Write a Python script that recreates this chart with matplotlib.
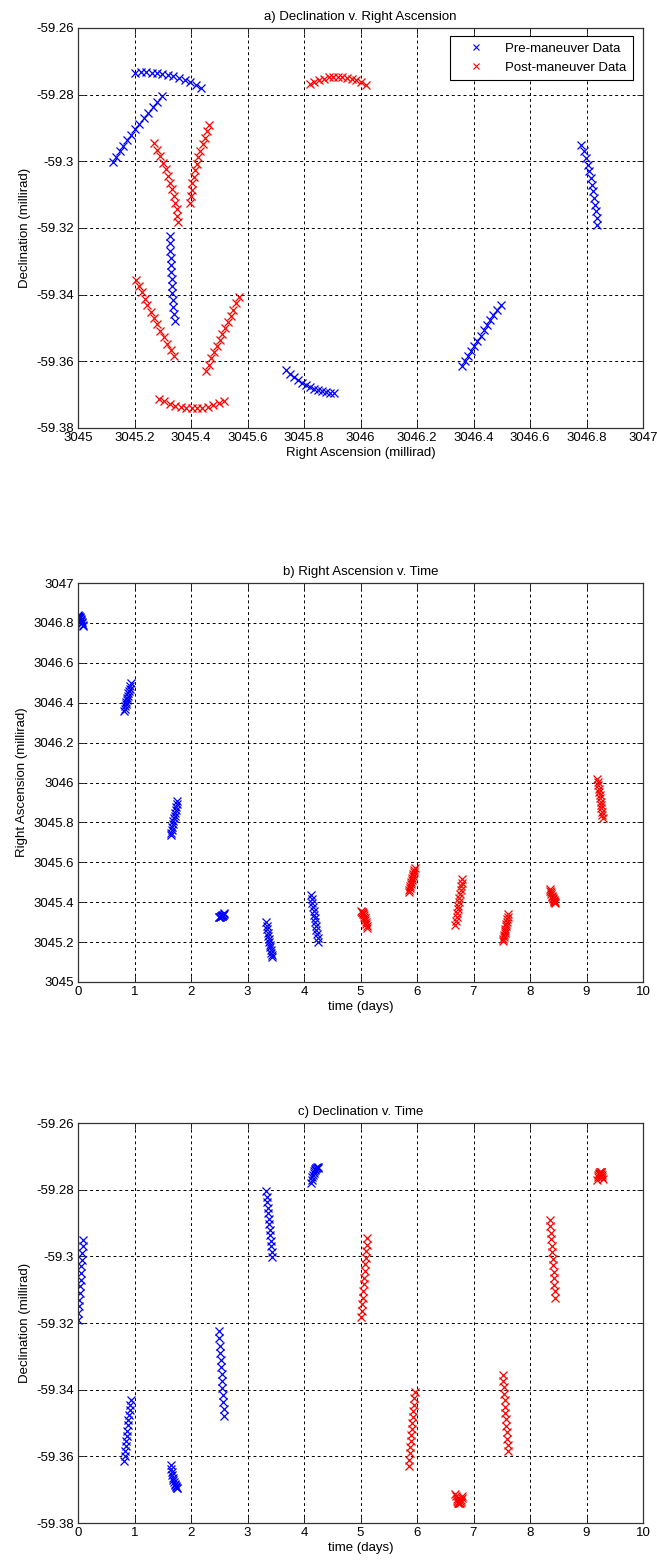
import matplotlib
matplotlib.use("Agg")
import matplotlib.pyplot as plt
from matplotlib.ticker import FuncFormatter, FixedLocator

plt.rcParams['font.family'] = ['Liberation Sans', 'DejaVu Sans']
plt.rcParams['font.size'] = 9.5

# ---------------- data (one inner list per observation pass) ----------------
pre_time = [
    [0.000, 0.008, 0.015, 0.023, 0.030, 0.038, 0.045, 0.053, 0.060, 0.068, 0.075, 0.083, 0.090],
    [0.820, 0.829, 0.838, 0.848, 0.857, 0.866, 0.875, 0.884, 0.893, 0.903, 0.912, 0.921, 0.930],
    [1.640, 1.650, 1.660, 1.670, 1.680, 1.690, 1.700, 1.710, 1.720, 1.730, 1.740, 1.750, 1.760],
    [2.490, 2.498, 2.507, 2.515, 2.523, 2.532, 2.540, 2.548, 2.557, 2.565, 2.573, 2.582, 2.590],
    [3.330, 3.339, 3.348, 3.358, 3.367, 3.376, 3.385, 3.394, 3.403, 3.413, 3.422, 3.431, 3.440],
    [4.130, 4.140, 4.150, 4.160, 4.170, 4.180, 4.190, 4.200, 4.210, 4.220, 4.230, 4.240, 4.250],
]
pre_ra = [
    [3046.838, 3046.836, 3046.834, 3046.831, 3046.828, 3046.824, 3046.820, 3046.815, 3046.810, 3046.805, 3046.798, 3046.791, 3046.782],
    [3046.360, 3046.370, 3046.381, 3046.392, 3046.403, 3046.414, 3046.425, 3046.436, 3046.447, 3046.458, 3046.470, 3046.483, 3046.497],
    [3045.735, 3045.749, 3045.763, 3045.778, 3045.792, 3045.806, 3045.820, 3045.834, 3045.848, 3045.863, 3045.877, 3045.891, 3045.905],
    [3045.325, 3045.326, 3045.327, 3045.328, 3045.329, 3045.330, 3045.331, 3045.332, 3045.334, 3045.336, 3045.338, 3045.341, 3045.344],
    [3045.299, 3045.281, 3045.264, 3045.248, 3045.232, 3045.217, 3045.202, 3045.187, 3045.173, 3045.160, 3045.147, 3045.135, 3045.123],
    [3045.435, 3045.416, 3045.396, 3045.377, 3045.358, 3045.338, 3045.319, 3045.299, 3045.280, 3045.261, 3045.241, 3045.222, 3045.203],
]
pre_dec = [
    [-59.3190, -59.3170, -59.3150, -59.3130, -59.3110, -59.3090, -59.3070, -59.3050, -59.3030, -59.3010, -59.2990, -59.2970, -59.2950],
    [-59.3615, -59.3600, -59.3584, -59.3569, -59.3553, -59.3538, -59.3523, -59.3507, -59.3492, -59.3476, -59.3461, -59.3445, -59.3430],
    [-59.3626, -59.3637, -59.3647, -59.3656, -59.3664, -59.3671, -59.3677, -59.3682, -59.3686, -59.3689, -59.3692, -59.3694, -59.3695],
    [-59.3225, -59.3246, -59.3268, -59.3289, -59.3310, -59.3331, -59.3353, -59.3374, -59.3395, -59.3416, -59.3438, -59.3459, -59.3480],
    [-59.2805, -59.2822, -59.2838, -59.2855, -59.2871, -59.2888, -59.2904, -59.2921, -59.2937, -59.2954, -59.2970, -59.2987, -59.3003],
    [-59.2780, -59.2771, -59.2763, -59.2756, -59.2750, -59.2745, -59.2741, -59.2737, -59.2735, -59.2734, -59.2733, -59.2733, -59.2735],
]

post_time = [
    [5.010, 5.019, 5.028, 5.038, 5.047, 5.056, 5.065, 5.074, 5.083, 5.093, 5.102, 5.111, 5.120],
    [5.850, 5.859, 5.868, 5.878, 5.887, 5.896, 5.905, 5.914, 5.923, 5.933, 5.942, 5.951, 5.960],
    [6.680, 6.690, 6.700, 6.710, 6.720, 6.730, 6.740, 6.750, 6.760, 6.770, 6.780, 6.790, 6.800],
    [7.520, 7.528, 7.535, 7.543, 7.550, 7.558, 7.565, 7.573, 7.580, 7.588, 7.595, 7.603, 7.610],
    [8.350, 8.358, 8.367, 8.375, 8.383, 8.392, 8.400, 8.408, 8.417, 8.425, 8.433, 8.442, 8.450],
    [9.190, 9.198, 9.207, 9.215, 9.223, 9.232, 9.240, 9.248, 9.257, 9.265, 9.273, 9.282, 9.290],
]
post_ra = [
    [3045.355, 3045.352, 3045.349, 3045.345, 3045.341, 3045.334, 3045.327, 3045.319, 3045.311, 3045.302, 3045.292, 3045.281, 3045.269],
    [3045.452, 3045.462, 3045.472, 3045.482, 3045.491, 3045.501, 3045.511, 3045.521, 3045.531, 3045.541, 3045.550, 3045.560, 3045.570],
    [3045.287, 3045.306, 3045.325, 3045.345, 3045.364, 3045.383, 3045.402, 3045.421, 3045.440, 3045.460, 3045.479, 3045.498, 3045.517],
    [3045.205, 3045.215, 3045.225, 3045.236, 3045.246, 3045.257, 3045.268, 3045.280, 3045.291, 3045.303, 3045.315, 3045.328, 3045.340],
    [3045.465, 3045.457, 3045.449, 3045.441, 3045.433, 3045.426, 3045.420, 3045.414, 3045.409, 3045.405, 3045.402, 3045.400, 3045.398],
    [3046.018, 3046.002, 3045.985, 3045.969, 3045.952, 3045.936, 3045.920, 3045.903, 3045.887, 3045.870, 3045.854, 3045.837, 3045.821],
]
post_dec = [
    [-59.3183, -59.3163, -59.3143, -59.3124, -59.3104, -59.3084, -59.3064, -59.3044, -59.3024, -59.3005, -59.2985, -59.2965, -59.2945],
    [-59.3628, -59.3610, -59.3591, -59.3573, -59.3555, -59.3536, -59.3518, -59.3500, -59.3481, -59.3463, -59.3445, -59.3426, -59.3408],
    [-59.3712, -59.3720, -59.3727, -59.3733, -59.3737, -59.3740, -59.3741, -59.3741, -59.3739, -59.3736, -59.3732, -59.3726, -59.3719],
    [-59.3355, -59.3374, -59.3393, -59.3412, -59.3432, -59.3451, -59.3470, -59.3489, -59.3508, -59.3528, -59.3547, -59.3566, -59.3585],
    [-59.2890, -59.2910, -59.2929, -59.2949, -59.2968, -59.2988, -59.3008, -59.3027, -59.3047, -59.3066, -59.3086, -59.3105, -59.3125],
    [-59.2770, -59.2763, -59.2757, -59.2752, -59.2749, -59.2747, -59.2746, -59.2747, -59.2748, -59.2752, -59.2756, -59.2762, -59.2769],
]

ra_ticks = [3045, 3045.2, 3045.4, 3045.6, 3045.8, 3046, 3046.2, 3046.4, 3046.6, 3046.8, 3047]
dec_ticks = [-59.38, -59.36, -59.34, -59.32, -59.30, -59.28, -59.26]
time_ticks = [0, 1, 2, 3, 4, 5, 6, 7, 8, 9, 10]

titles = ["a) Declination v. Right Ascension", "b) Right Ascension v. Time", "c) Declination v. Time"]
legend_labels = ["Pre-maneuver Data", "Post-maneuver Data"]

# ---------------- figure ----------------
W, H = 657, 1566
fig = plt.figure(figsize=(W / 100, H / 100), dpi=100)
fig.patch.set_facecolor('white')

left_px, right_px = 78, 643
def add_ax(top_px, bot_px):
    return fig.add_axes([left_px / W, 1 - bot_px / H, (right_px - left_px) / W, (bot_px - top_px) / H])

ax_a = add_ax(28, 428)
ax_b = add_ax(583, 982)
ax_c = add_ax(1123, 1523)

fmt = FuncFormatter(lambda v, p: '{:.6g}'.format(round(v, 4)))
mk = dict(marker='x', linestyle='none', markersize=6, markeredgewidth=0.9)

def style(ax, xt, yt, xlim, ylim):
    ax.set_xlim(*xlim)
    ax.set_ylim(*ylim)
    ax.xaxis.set_major_locator(FixedLocator(xt))
    ax.yaxis.set_major_locator(FixedLocator(yt))
    ax.xaxis.set_major_formatter(fmt)
    ax.yaxis.set_major_formatter(fmt)
    ax.grid(True, color='black', linestyle=(0, (3, 3)), linewidth=0.7)
    ax.set_axisbelow(True)
    ax.tick_params(direction='in', length=4, width=0.7, top=True, right=True,
                   labelsize=9.5, pad=3, colors='#222222', labelcolor='black')
    for s in ax.spines.values():
        s.set_color('#333333')
        s.set_linewidth(0.9)

# a) Dec vs RA
for i in range(len(pre_ra)):
    ax_a.plot(pre_ra[i], pre_dec[i], color='blue', label=legend_labels[0] if i == 0 else None, **mk)
for i in range(len(post_ra)):
    ax_a.plot(post_ra[i], post_dec[i], color='red', label=legend_labels[1] if i == 0 else None, **mk)
style(ax_a, ra_ticks, dec_ticks, (3045, 3047), (-59.38, -59.26))
ax_a.set_title(titles[0], fontsize=9.5, pad=6)
ax_a.set_xlabel("Right Ascension (millirad)", fontsize=9.5, labelpad=2)
ax_a.set_ylabel("Declination (millirad)", fontsize=9.5, labelpad=4)
leg = ax_a.legend(loc='upper right', bbox_to_anchor=(633 / W, 1 - 36 / H), bbox_transform=fig.transFigure,
                  fancybox=False, framealpha=1, edgecolor='black', handlelength=3.0,
                  handletextpad=0.7, borderpad=0.5, labelspacing=0.5, fontsize=9.5, borderaxespad=0)
leg.get_frame().set_linewidth(0.8)
for h in leg.legend_handles:
    h.set_markersize(5)
    h.set_markeredgewidth(0.8)

# b) RA vs time
for i in range(len(pre_time)):
    ax_b.plot(pre_time[i], pre_ra[i], color='blue', **mk)
for i in range(len(post_time)):
    ax_b.plot(post_time[i], post_ra[i], color='red', **mk)
style(ax_b, time_ticks, ra_ticks, (0, 10), (3045, 3047))
ax_b.set_title(titles[1], fontsize=9.5, pad=6)
ax_b.set_xlabel("time (days)", fontsize=9.5, labelpad=2)
ax_b.set_ylabel("Right Ascension (millirad)", fontsize=9.5, labelpad=4)

# c) Dec vs time
for i in range(len(pre_time)):
    ax_c.plot(pre_time[i], pre_dec[i], color='blue', **mk)
for i in range(len(post_time)):
    ax_c.plot(post_time[i], post_dec[i], color='red', **mk)
style(ax_c, time_ticks, dec_ticks, (0, 10), (-59.38, -59.26))
ax_c.set_title(titles[2], fontsize=9.5, pad=6)
ax_c.set_xlabel("time (days)", fontsize=9.5, labelpad=2)
ax_c.set_ylabel("Declination (millirad)", fontsize=9.5, labelpad=4)

fig.savefig("out.png", dpi=100, facecolor='white')
